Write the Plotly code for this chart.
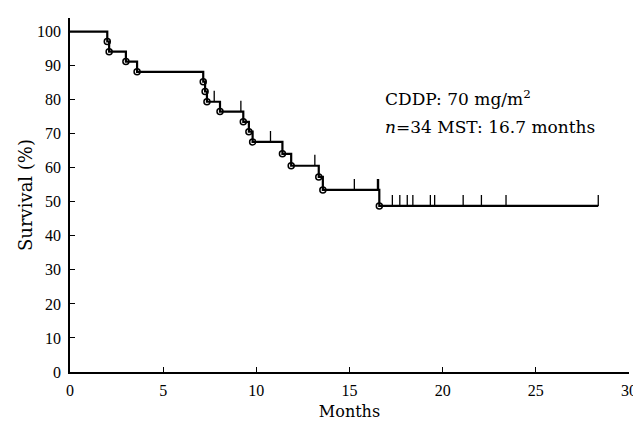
import plotly.graph_objects as go

# Kaplan-Meier data
event_times = [2.0, 2.1, 3.0, 3.6, 7.15, 7.25, 7.35, 8.05, 9.3, 9.6, 9.8, 11.4, 11.87, 13.35, 13.57, 16.6]
event_surv = [97.1, 94.1, 91.2, 88.2, 85.3, 82.4, 79.4, 76.5, 73.5, 70.6, 67.6, 64.1, 60.6, 57.3, 53.5, 48.8]
censor_times = [7.74, 9.17, 10.76, 13.14, 15.26, 16.5, 16.56, 17.3, 17.7, 18.1, 18.4, 19.34, 19.57,
                21.1, 22.08, 23.4, 28.35]
x_ticks = [0, 5, 10, 15, 20, 25, 30]
y_ticks = [0, 10, 20, 30, 40, 50, 60, 70, 80, 90, 100]
end_time = 28.35

# Build step curve
step_x = [0] + event_times + [end_time]
step_y = [100] + event_surv + [event_surv[-1]]


def surv_at(t):
    s = 100
    for et, es in zip(event_times, event_surv):
        if et <= t:
            s = es
    return s


cx, cy = [], []
for t in censor_times:
    s = surv_at(t)
    cx += [t, t, None]
    cy += [s, s + 3.2, None]

serif = "Liberation Serif, Times New Roman, serif"
wide_serif = "DejaVu Serif, serif"

fig = go.Figure()
fig.add_trace(go.Scatter(x=step_x, y=step_y, mode="lines", line=dict(color="black", width=2.2, shape="hv"),
                         hoverinfo="skip"))
fig.add_trace(go.Scatter(x=cx, y=cy, mode="lines", line=dict(color="black", width=1.3), hoverinfo="skip"))
fig.add_trace(go.Scatter(x=event_times, y=event_surv, mode="markers",
                         marker=dict(symbol="circle-open", size=6, color="black", line=dict(width=1.5)),
                         hoverinfo="skip"))

fig.add_annotation(x=0.56, y=0.774, xref="paper", yref="paper", xanchor="left", yanchor="middle",
                   text="CDDP: 70 mg/m<sup>2</sup>", showarrow=False,
                   font=dict(family=wide_serif, size=17, color="black"))
fig.add_annotation(x=0.56, y=0.692, xref="paper", yref="paper", xanchor="left", yanchor="middle",
                   text="<i>n</i>=34 MST: 16.7 months", showarrow=False,
                   font=dict(family=wide_serif, size=17, color="black"))

fig.update_layout(
    width=633, height=421,
    margin=dict(l=62, r=12, t=10, b=57),
    paper_bgcolor="white", plot_bgcolor="white",
    showlegend=False,
    font=dict(family=serif, size=15, color="black"),
)
fig.update_xaxes(range=[0, 30], tickvals=x_ticks, ticks="inside", ticklen=5, tickcolor="black",
                 showline=True, linecolor="black", linewidth=1.5, showgrid=False, zeroline=False,
                 automargin=False, ticklabelstandoff=3,
                 title=dict(text="Months", font=dict(family=wide_serif, size=16), standoff=8),
                 tickfont=dict(family=serif, size=16))
fig.update_yaxes(range=[0, 104], tickvals=y_ticks, ticks="inside", ticklen=5, tickcolor="black",
                 showline=True, linecolor="black", linewidth=1.5, showgrid=False, zeroline=False,
                 automargin=False, ticklabelstandoff=4,
                 title=dict(text="Survival (%)", font=dict(family=wide_serif, size=18), standoff=0),
                 tickfont=dict(family=serif, size=16))

fig.write_html("out.html")
